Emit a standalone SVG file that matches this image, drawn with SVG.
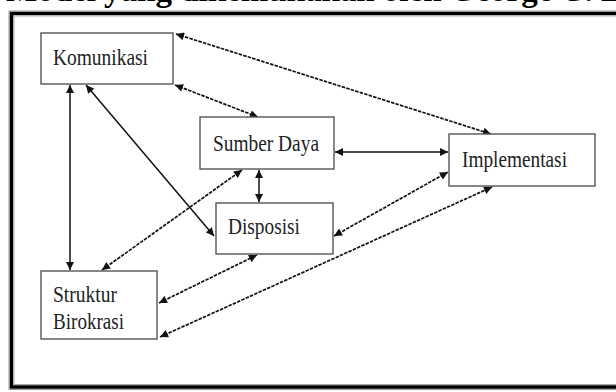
<svg xmlns="http://www.w3.org/2000/svg" width="616" height="392" viewBox="0 0 616 392">
<style>
.box{fill:#fff;stroke:#555;stroke-width:1.4}
.lbl{font-family:"Liberation Serif","Times New Roman",serif;font-size:24px;fill:#222}
.c{fill:none;stroke:#111;stroke-width:1.5}
.d{stroke-dasharray:3.5,1.2;stroke-width:1.7}
</style>
<defs>
<marker id="ah" viewBox="0 0 10 10" refX="10" refY="5" markerWidth="9" markerHeight="8" markerUnits="userSpaceOnUse" orient="auto-start-reverse">
<path d="M0,0L10,5L0,10z" fill="#111"/>
</marker>
</defs>
<rect width="616" height="392" fill="#fff"/>
<text x="6" y="0.5" font-family="Liberation Serif, serif" font-weight="bold" font-size="33" fill="#000">Model yang dikemukakan oleh George C. Edwards III</text>
<g id="frame" fill="none">
<rect x="9" y="11" width="620" height="378.5" stroke="#999" stroke-width="1"/>
<rect x="11.5" y="13.5" width="620" height="373.5" stroke="#000" stroke-width="3.5"/>
<rect x="14" y="16" width="620" height="368.5" stroke="#aaa" stroke-width="1"/>
</g>
<g id="connectors">
<line class="c d" x1="176" y1="34" x2="491" y2="134" marker-start="url(#ah)" marker-end="url(#ah)"/>
<line class="c d" x1="175" y1="85" x2="258" y2="117" marker-start="url(#ah)" marker-end="url(#ah)"/>
<line class="c" x1="335" y1="152" x2="448" y2="152" marker-start="url(#ah)" marker-end="url(#ah)"/>
<line class="c" x1="70" y1="85" x2="70" y2="270" marker-start="url(#ah)" marker-end="url(#ah)"/>
<line class="c" x1="86" y1="85" x2="214" y2="236" marker-start="url(#ah)" marker-end="url(#ah)"/>
<line class="c" x1="259" y1="170" x2="259" y2="202" marker-start="url(#ah)" marker-end="url(#ah)"/>
<line class="c d" x1="102" y1="270" x2="242" y2="170" marker-start="url(#ah)" marker-end="url(#ah)"/>
<line class="c d" x1="159" y1="303" x2="257" y2="255" marker-start="url(#ah)" marker-end="url(#ah)"/>
<line class="c d" x1="334" y1="236" x2="448" y2="172" marker-start="url(#ah)" marker-end="url(#ah)"/>
<line class="c d" x1="160" y1="337" x2="492" y2="187" marker-start="url(#ah)" marker-end="url(#ah)"/>
</g>
<g id="komunikasi">
<rect class="box" x="41" y="33" width="132" height="51"/>
<text class="lbl" x="53" y="65" textLength="95" lengthAdjust="spacingAndGlyphs">Komunikasi</text>
</g>
<g id="sumber-daya">
<rect class="box" x="200" y="117" width="134" height="52"/>
<text class="lbl" x="213" y="151" textLength="106" lengthAdjust="spacingAndGlyphs">Sumber Daya</text>
</g>
<g id="disposisi">
<rect class="box" x="216" y="203" width="117" height="51"/>
<text class="lbl" x="228" y="234" textLength="72" lengthAdjust="spacingAndGlyphs">Disposisi</text>
</g>
<g id="struktur-birokrasi">
<rect class="box" x="41" y="271" width="116" height="68"/>
<text class="lbl" x="53" y="302" textLength="64" lengthAdjust="spacingAndGlyphs">Struktur</text>
<text class="lbl" x="53" y="329" textLength="71" lengthAdjust="spacingAndGlyphs">Birokrasi</text>
</g>
<g id="implementasi">
<rect class="box" x="449" y="134" width="146" height="52"/>
<text class="lbl" x="462" y="167" textLength="105" lengthAdjust="spacingAndGlyphs">Implementasi</text>
</g>
</svg>
